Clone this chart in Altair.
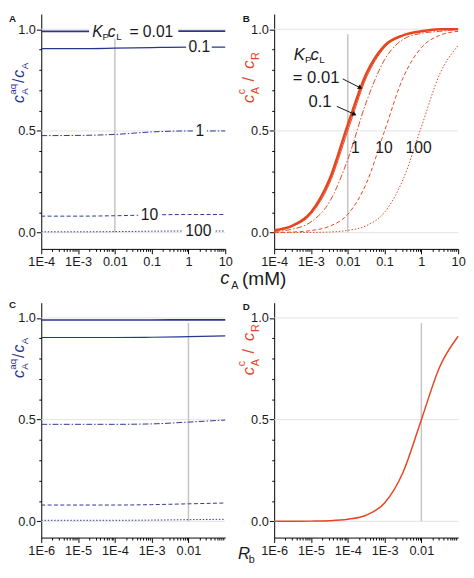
import altair as alt
import pandas as pd

FONT = "Liberation Sans"
BLUE = "#2b3590"
RED = "#e6461f"
INK = "#1a1a1a"
GRID = "#e2e2e2"
VLINE = "#c4c4c4"

W, H = 188, 240
Y_DOMAIN = [-0.08, 1.075]

# ---------------- data ----------------
kp_names = ["0.01", "0.1", "1", "10", "100"]

# Panel A : c_A^aq / c_A  vs  c_A (mM)
xA = [1e-4, 1e-3, 1e-2, 1e-1, 1, 10]
A_001 = [0.990, 0.990, 0.990, 0.991, 0.991, 0.991]
A_01 = [0.905, 0.905, 0.907, 0.910, 0.912, 0.912]
A_1 = [0.477, 0.478, 0.483, 0.495, 0.500, 0.500]
A_10 = [0.081, 0.081, 0.083, 0.087, 0.089, 0.089]
A_100 = [0.004, 0.004, 0.005, 0.007, 0.008, 0.008]

# Panel B : c_A^c / c_R  vs  c_A (mM)
xB = [1e-4, 3.16e-4, 1e-3, 3.16e-3, 1e-2, 3.16e-2, 1e-1, 3.16e-1, 1, 3.16, 10]
B_001 = [0.011, 0.034, 0.100, 0.26, 0.53, 0.78, 0.92, 0.97, 0.99, 1.0, 1.0]
B_01 = [0.010, 0.031, 0.090, 0.24, 0.50, 0.76, 0.91, 0.97, 0.99, 1.0, 1.0]
B_1 = [0.006, 0.017, 0.053, 0.15, 0.36, 0.64, 0.85, 0.95, 0.98, 0.99, 1.0]
B_10 = [0.001, 0.003, 0.010, 0.031, 0.09, 0.24, 0.50, 0.76, 0.91, 0.97, 0.99]
B_100 = [0.000, 0.000, 0.001, 0.003, 0.011, 0.034, 0.10, 0.26, 0.52, 0.78, 0.92]

# Panel C : c_A^aq / c_A  vs  R_b
xC = [1e-6, 1e-5, 1e-4, 1e-3, 1e-2, 1e-1]
C_001 = [0.990, 0.990, 0.990, 0.990, 0.991, 0.991]
C_01 = [0.904, 0.904, 0.904, 0.905, 0.908, 0.912]
C_1 = [0.477, 0.477, 0.477, 0.479, 0.488, 0.498]
C_10 = [0.080, 0.080, 0.080, 0.082, 0.086, 0.090]
C_100 = [0.005, 0.005, 0.005, 0.006, 0.008, 0.010]

# Panel D : c_A^c / c_R  vs  R_b
xD = [1e-6, 3.16e-6, 1e-5, 3.16e-5, 1e-4, 3.16e-4, 1e-3, 3.16e-3, 1e-2, 3.16e-2, 1e-1]
D_y = [0.000, 0.000, 0.001, 0.003, 0.010, 0.030, 0.090, 0.24, 0.50, 0.76, 0.91]

grid_y = [0.0, 0.5, 1.0]
vline = {"x": [0.01], "y": [0.0], "y2": [0.975]}

# ---------------- styles ----------------
styles_blue = {
    "0.01": dict(strokeWidth=1.7),
    "0.1": dict(strokeWidth=1.2),
    "1": dict(strokeWidth=1.0, strokeDash=[6, 2, 1.5, 2]),
    "10": dict(strokeWidth=1.0, strokeDash=[4, 2.5]),
    "100": dict(strokeWidth=1.0, strokeDash=[1.5, 1.8]),
}
styles_red = {
    "0.01": dict(strokeWidth=2.6),
    "0.1": dict(strokeWidth=1.0),
    "1": dict(strokeWidth=1.0, strokeDash=[6, 2, 1.5, 2]),
    "10": dict(strokeWidth=1.0, strokeDash=[4, 2.5]),
    "100": dict(strokeWidth=1.0, strokeDash=[1.5, 1.8]),
}

ONE = pd.DataFrame({"k": [0]})

DEC_TEST = "abs(log(datum.value)/LN10 - round(log(datum.value)/LN10)) < 0.01"
X_LABEL = ("(" + DEC_TEST + ") ? (round(log(datum.value)/LN10) <= -3 ? '1E' + round(log(datum.value)/LN10)"
           " : format(datum.value, '~g')) : ''")
Y_TEST = "abs(datum.value*2 - round(datum.value*2)) < 0.01"
Y_LABEL = "(" + Y_TEST + ") ? format(datum.value, '.1f') : ''"


def log_ticks(e0, e1, last_major=True):
    vals = []
    for e in range(e0, e1 + 1):
        if e < e1 or last_major:
            vals.append(float(f"1e{e}"))
        if e < e1:
            for m in range(2, 10):
                vals.append(float(f"{m}e{e}"))
    return vals


def x_enc(domain, values, field="x"):
    return alt.X(
        f"{field}:Q",
        scale=alt.Scale(type="log", domain=domain, nice=False),
        axis=alt.Axis(
            values=values, labelExpr=X_LABEL, title=None, grid=False,
            tickSize={"condition": {"test": DEC_TEST, "value": 5}, "value": 2.5},
            labelPadding=2, labelOverlap=False, labelFlush=False,
            labelFont=FONT, labelFontSize=13, labelColor=INK,
            domainColor="#000", tickColor="#000", domainWidth=1, tickWidth=1,
        ),
    )


def y_enc(field="y"):
    return alt.Y(
        f"{field}:Q",
        scale=alt.Scale(domain=Y_DOMAIN, nice=False, zero=False),
        axis=alt.Axis(
            values=[round(i * 0.1, 1) for i in range(11)], labelExpr=Y_LABEL,
            title=None, grid=False,
            tickSize={"condition": {"test": Y_TEST, "value": 5}, "value": 2.5},
            labelPadding=1, labelOverlap=False,
            labelFont=FONT, labelFontSize=13, labelColor=INK,
            domainColor="#000", tickColor="#000", domainWidth=1, tickWidth=1,
        ),
    )


def txt(text, x, y, size, color=INK, italic=False, angle=0, align="left",
        baseline="alphabetic", bold=False):
    return alt.Chart(ONE).mark_text(
        text=text, fontSize=size, font=FONT,
        fontStyle="italic" if italic else "normal",
        fontWeight="bold" if bold else "normal",
        angle=angle, align=align, baseline=baseline, color=color,
    ).encode(x=alt.value(x), y=alt.value(y))


def anchor():
    # invisible marker fixing the left edge of the figure
    return alt.Chart(ONE).mark_rule(strokeOpacity=0, strokeWidth=1).encode(
        x=alt.value(-33), x2=alt.value(-33), y=alt.value(0), y2=alt.value(2))


def base_layers(X, Y):
    g = alt.Chart(pd.DataFrame({"y": grid_y})).mark_rule(color=GRID, strokeWidth=1).encode(y=Y)
    v = alt.Chart(pd.DataFrame(vline)).mark_rule(color=VLINE, strokeWidth=1.5).encode(
        x=X, y=Y, y2="y2:Q")
    return [g, v]


def line(xs, ys, color, style, X, Y):
    df = pd.DataFrame({"x": xs, "y": ys})
    return alt.Chart(df).mark_line(color=color, interpolate="monotone", **style).encode(x=X, y=Y)


def gap_rect(x0, x1, y0, y1, X, Y):
    df = pd.DataFrame({"x": [x0], "x2": [x1], "y": [y0], "y2": [y1]})
    return alt.Chart(df).mark_rect(color="white").encode(x=X, x2="x2:Q", y=Y, y2="y2:Q")


def dtext(text, x, y, X, Y, size=16, dx=0, dy=0, italic=False, align="left",
          baseline="alphabetic"):
    df = pd.DataFrame({"x": [x], "y": [y]})
    return alt.Chart(df).mark_text(
        text=text, fontSize=size, font=FONT, fontStyle="italic" if italic else "normal",
        dx=dx, dy=dy, align=align, baseline=baseline, color=INK,
    ).encode(x=X, y=Y)


def title_aq(color, y0):
    # c_A^aq / c_A , rotated, y0 = bottom end
    return [
        txt("c", -18, y0, 16, color, italic=True, angle=270),
        txt("A", -14, y0 - 8.5, 10, color, angle=270),
        txt("aq", -26, y0 - 8.5, 10, color, angle=270),
        txt("/", -18, y0 - 20.5, 16, color, angle=270),
        txt("c", -18, y0 - 26, 16, color, italic=True, angle=270),
        txt("A", -14, y0 - 34.5, 10, color, angle=270),
    ]


def title_cr(color, y0):
    # c_A^c / c_R , rotated, y0 = bottom end
    return [
        txt("c", -21, y0, 17, color, italic=True, angle=270),
        txt("A", -16, y0 - 9, 11, color, angle=270),
        txt("c", -30, y0 - 9, 11, color, angle=270),
        txt("/", -21, y0 - 22, 17, color, angle=270),
        txt("c", -21, y0 - 35, 17, color, italic=True, angle=270),
        txt("R", -16, y0 - 44, 11, color, angle=270),
    ]


# ---------------- Panel A ----------------
XA = x_enc([1e-4, 10], log_ticks(-4, 1))
YA = y_enc()
A_series = [A_001, A_01, A_1, A_10, A_100]
layersA = [anchor()] + base_layers(XA, YA)
for name, ys in zip(kp_names, A_series):
    layersA.append(line(xA, ys, BLUE, styles_blue[name], XA, YA))
layersA += [
    gap_rect(0.002, 0.53, 0.955, 1.03, XA, YA),
    gap_rect(0.86, 4.3, 0.87, 0.95, XA, YA),
    gap_rect(1.32, 3.13, 0.46, 0.54, XA, YA),
    gap_rect(0.043, 0.176, 0.05, 0.125, XA, YA),
    gap_rect(0.676, 5.09, -0.03, 0.04, XA, YA),
    dtext("K", 0.00242, 0.99, XA, YA, 16, dx=0, dy=6, italic=True),
    dtext("P", 0.00242, 0.99, XA, YA, 10, dx=10.5, dy=9),
    dtext("c", 0.00242, 0.99, XA, YA, 16, dx=16, dy=6, italic=True),
    dtext("L", 0.00242, 0.99, XA, YA, 10, dx=24.5, dy=9),
    dtext("= 0.01", 0.00242, 0.99, XA, YA, 16, dx=38, dy=6),
    dtext("0.1", 1.97, 0.91, XA, YA, 16, align="center", baseline="middle"),
    dtext("1", 2.04, 0.50, XA, YA, 16, align="center", baseline="middle"),
    dtext("10", 0.087, 0.087, XA, YA, 16, align="center", baseline="middle"),
    dtext("100", 1.86, 0.005, XA, YA, 16, align="center", baseline="middle"),
    txt("A", -33, 0, 10, bold=True, baseline="top"),
    # shared x title: c_A (mM)
    txt("c", 183, 276, 19, italic=True),
    txt("A", 194, 281, 11),
    txt("(mM)", 205, 277, 19.5),
]
layersA += title_aq(BLUE, 91)
panelA = alt.layer(*layersA).properties(width=W, height=H)

# ---------------- Panel B ----------------
XB = x_enc([1e-4, 10], log_ticks(-4, 1))
YB = y_enc()
B_series = [B_001, B_01, B_1, B_10, B_100]
layersB = base_layers(XB, YB)
for name, ys in zip(kp_names, B_series):
    layersB.append(line(xB, ys, RED, styles_red[name], XB, YB))

arrows = pd.DataFrame({
    "x": [0.00728, 0.00503], "y": [0.756, 0.621],
    "x2": [0.0219, 0.0152], "y2": [0.712, 0.582],
})
heads = pd.DataFrame({"x": [0.0219, 0.0152], "y": [0.712, 0.582], "a": [27, 24]})
layersB += [
    alt.Chart(arrows).mark_rule(color="#111", strokeWidth=1).encode(
        x=XB, y=YB, x2="x2:Q", y2="y2:Q"),
    alt.Chart(heads).mark_point(shape="triangle-right", filled=True, color="#111",
                                size=28, opacity=1).encode(
        x=XB, y=YB, angle=alt.Angle("a:Q", scale=None)),
    dtext("K", 3.4e-4, 0.848, XB, YB, 17, italic=True),
    dtext("P", 3.4e-4, 0.848, XB, YB, 10, dx=11.5, dy=3),
    dtext("c", 3.4e-4, 0.848, XB, YB, 17, dx=17, italic=True),
    dtext("L", 3.4e-4, 0.848, XB, YB, 10, dx=26, dy=3),
    dtext("= 0.01", 3.2e-4, 0.737, XB, YB, 17),
    dtext("0.1", 8.5e-4, 0.616, XB, YB, 17),
    dtext("1", 0.0160, 0.416, XB, YB, 16, align="center", baseline="middle"),
    dtext("10", 0.0960, 0.416, XB, YB, 16, align="center", baseline="middle"),
    dtext("100", 0.840, 0.416, XB, YB, 16, align="center", baseline="middle"),
    txt("B", -32, 0, 10, bold=True, baseline="top"),
]
layersB += title_cr(RED, 91)
panelB = alt.layer(*layersB).properties(width=W, height=H)

# ---------------- Panel C ----------------
XC = x_enc([1e-6, 1e-1], log_ticks(-6, -1, last_major=False))
YC = y_enc()
C_series = [C_001, C_01, C_1, C_10, C_100]
layersC = [anchor()] + base_layers(XC, YC)
for name, ys in zip(kp_names, C_series):
    layersC.append(line(xC, ys, BLUE, styles_blue[name], XC, YC))
layersC += [txt("C", -33, -3, 10, bold=True, baseline="top")]
layersC += title_aq(BLUE, 77)
panelC = alt.layer(*layersC).properties(width=W, height=H)

# ---------------- Panel D ----------------
XD = x_enc([1e-6, 1e-1], log_ticks(-6, -1, last_major=False))
YD = y_enc()
layersD = base_layers(XD, YD)
layersD.append(line(xD, D_y, RED, dict(strokeWidth=1.5), XD, YD))
layersD += [
    txt("D", -32, -1, 10, bold=True, baseline="top"),
    txt("R", -37, 262, 17, italic=True),
    txt("b", -26, 266, 11),
]
layersD += title_cr(RED, 74)
panelD = alt.layer(*layersD).properties(width=W, height=H)

chart = alt.concat(
    panelA, panelB, panelC, panelD, columns=2,
    spacing={"row": 55, "column": 50}, bounds="flush",
).properties(padding=0).configure_view(stroke=None)

chart.save("out.html", embed_options={"renderer": "svg", "actions": False})
